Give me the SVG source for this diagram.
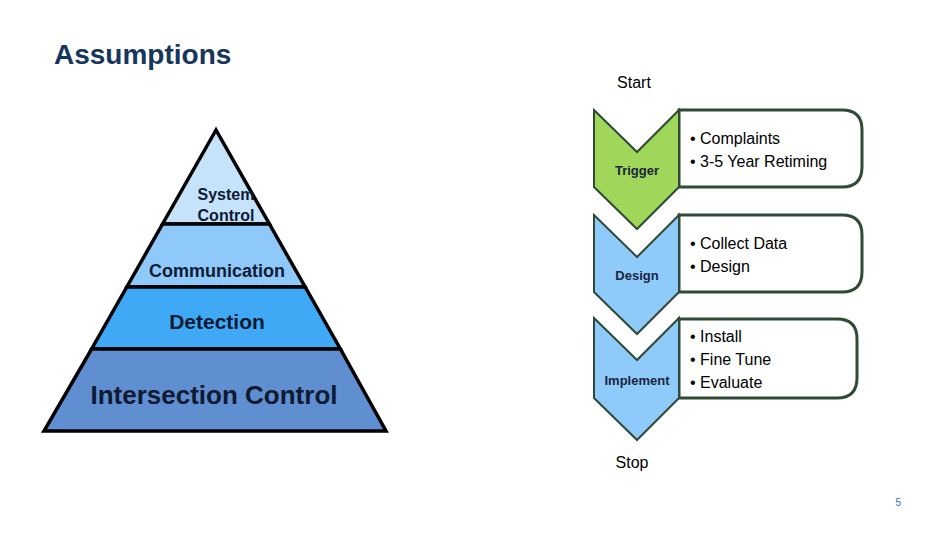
<svg xmlns="http://www.w3.org/2000/svg" width="936" height="540" viewBox="0 0 936 540">
<style>
text{font-family:"Liberation Sans",Arial,sans-serif}
.pyr{stroke:#000;stroke-width:3.5}
.pt{font-weight:bold;fill:#0f1a33;text-anchor:middle}
.chev{stroke:#2f4a36;stroke-width:2}
.box{fill:#fff;stroke:#2f4a36;stroke-width:3}
.cl{font-size:13px;font-weight:bold;fill:#1a2540;text-anchor:middle}
.bt{font-size:16px;fill:#000}
</style>
<rect width="936" height="540" fill="#fff"/>
<text x="54" y="64" font-size="28" font-weight="bold" fill="#17365d">Assumptions</text>
<g id="pyramid">
<polygon class="pyr" points="216,130 162.6,224 269.4,224" fill="#c5e3fb"/>
<polygon class="pyr" points="162.6,224 269.4,224 305.2,287 126.8,287" fill="#8ec9f9"/>
<polygon class="pyr" points="126.8,287 305.2,287 340.4,349 91.6,349" fill="#3fa9f5"/>
<polygon class="pyr" points="91.6,349 340.4,349 386,431 44,431" fill="#5f8fd0"/>
<text class="pt" x="226" y="200" font-size="16">System</text>
<text class="pt" x="226" y="221" font-size="16">Control</text>
<text class="pt" x="217" y="277" font-size="18">Communication</text>
<text class="pt" x="217" y="329" font-size="21">Detection</text>
<text class="pt" x="214" y="404" font-size="26">Intersection Control</text>
</g>
<text x="634" y="88" font-size="16" text-anchor="middle">Start</text>
<text x="632" y="468" font-size="16" text-anchor="middle">Stop</text>
<g id="trigger">
<path class="box" d="M679,110 H842 Q862,110 862,130 V167 Q862,187 842,187 H679 Z"/>
<polygon class="chev" points="594,110 637,152 679,110 679,187 637,229 594,187" fill="#a0d75a"/>
<text class="cl" x="637" y="175">Trigger</text>
<text class="bt" x="690" y="144">• Complaints</text>
<text class="bt" x="690" y="167">• 3-5 Year Retiming</text>
</g>
<g id="design">
<path class="box" d="M679,215 H842 Q862,215 862,235 V272 Q862,292 842,292 H679 Z"/>
<polygon class="chev" points="594,215 637,257 679,215 679,292 637,334 594,292" fill="#8fcbfa"/>
<text class="cl" x="637" y="280">Design</text>
<text class="bt" x="690" y="249">• Collect Data</text>
<text class="bt" x="690" y="272">• Design</text>
</g>
<g id="implement">
<path class="box" d="M679,319 H837 Q857,319 857,339 V378 Q857,398 837,398 H679 Z"/>
<polygon class="chev" points="594,318 637,360 679,318 679,398 637,440 594,398" fill="#8fcbfa"/>
<text class="cl" x="637" y="385">Implement</text>
<text class="bt" x="690" y="342">• Install</text>
<text class="bt" x="690" y="365">• Fine Tune</text>
<text class="bt" x="690" y="388">•  Evaluate</text>
</g>
<g id="connectors"/>
<text x="901" y="506" font-size="10" fill="#1f7ac0" text-anchor="end">5</text>
</svg>
